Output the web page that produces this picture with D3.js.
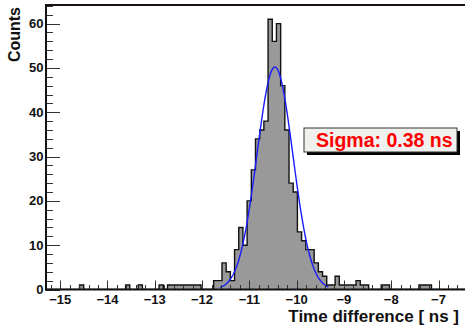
<!DOCTYPE html>
<html>
<head>
<meta charset="utf-8">
<script src="https://cdn.jsdelivr.net/npm/d3@7"></script>
<style>
  html, body { margin: 0; padding: 0; background: #fff; }
  svg { display: block; font-family: "Liberation Sans", Arial, Helvetica, sans-serif; }
</style>
</head>
<body>
<div id="chart"></div>
<script>
/* Time difference histogram with gaussian fit (ROOT style) */

const X_LOW = -15.3;
const X_HIGH = -6.44;
const N_BINS = 100;

// bin contents
const COUNTS = [
  0, 0, 0, 0, 0, 0, 0, 0, 1, 0,      // 0-9
  0, 0, 0, 0, 0, 0, 0, 0, 0, 1,      // 10-19
  0, 0, 1, 0, 0, 0, 0, 1, 0, 1,      // 20-29
  1, 1, 1, 1, 1, 1, 1, 0, 0, 0,      // 30-39
  2, 2, 6, 4, 2, 9, 14, 10, 20, 27,  // 40-49
  34, 36, 38, 61, 56, 60, 46, 36, 24, 22, // 50-59
  13, 11, 9, 9, 6, 4, 3, 1, 1, 3,    // 60-69
  1, 1, 1, 1, 2, 1, 1, 0, 0, 0,      // 70-79
  1, 1, 0, 0, 0, 0, 0, 0, 0, 1,      // 80-89
  1, 1, 0, 0, 0, 0, 0, 0, 0, 0       // 90-99
];

// gaussian fit parameters
const FIT_CONST = 50.2;
const FIT_MEAN = -10.46;
const FIT_SIGMA = 0.38;
const FIT_RANGE = [-11.62, -9.33];

const X_TICKS = [-15, -14, -13, -12, -11, -10, -9, -8, -7];
const Y_TICKS = [0, 10, 20, 30, 40, 50, 60];
const Y_MAX = 64.2;

const W = 465, H = 325;
const frame = { left: 46, right: 466, top: 5, bottom: 289.5 };

const svg = d3.select("#chart").append("svg")
  .attr("width", W).attr("height", H);

const x = d3.scaleLinear().domain([X_LOW, X_HIGH]).range([frame.left, frame.right - 1]);
const y = d3.scaleLinear().domain([0, Y_MAX]).range([frame.bottom, frame.top]);

svg.append("clipPath").attr("id", "clip").append("rect")
  .attr("x", frame.left).attr("y", frame.top)
  .attr("width", frame.right - frame.left).attr("height", frame.bottom - frame.top);

const binW = (X_HIGH - X_LOW) / N_BINS;
const bins = COUNTS.map((c, i) => ({ x0: X_LOW + i * binW, x1: X_LOW + (i + 1) * binW, c }));

/* step path of the histogram */
const pts = [[X_LOW, 0]];
bins.forEach(b => { pts.push([b.x0, b.c]); pts.push([b.x1, b.c]); });
pts.push([X_HIGH, 0]);

const plot = svg.append("g").attr("clip-path", "url(#clip)");

plot.append("path")
  .attr("d", d3.area().x(d => x(d[0])).y0(y(0)).y1(d => y(d[1]))(pts))
  .attr("fill", "#999999");

plot.append("path")
  .attr("d", d3.line().x(d => x(d[0])).y(d => y(d[1]))(pts))
  .attr("fill", "none").attr("stroke", "#111").attr("stroke-width", 1.4);

/* fit curve */
const fitPts = d3.range(0, 201).map(k => {
  const v = FIT_RANGE[0] + (FIT_RANGE[1] - FIT_RANGE[0]) * k / 200;
  return [v, FIT_CONST * Math.exp(-0.5 * ((v - FIT_MEAN) / FIT_SIGMA) ** 2)];
});
plot.append("path")
  .attr("d", d3.line().x(d => x(d[0])).y(d => y(d[1]))(fitPts))
  .attr("fill", "none").attr("stroke", "#1a1aff").attr("stroke-width", 1.4);

/* ticks: y axis (inside frame) */
const yMinor = d3.range(0, Y_MAX, 2);
svg.append("g").selectAll("line").data(yMinor).enter().append("line")
  .attr("x1", frame.left).attr("x2", d => frame.left + (d % 10 === 0 ? 14 : 7))
  .attr("y1", d => Math.round(y(d)) + 0.5).attr("y2", d => Math.round(y(d)) + 0.5)
  .attr("stroke", "#333").attr("stroke-width", 1);

svg.append("g").selectAll("text").data(Y_TICKS).enter().append("text")
  .attr("x", 43.5).attr("y", d => y(d) + 4.5)
  .attr("text-anchor", "end")
  .style("font-size", "13px").style("font-weight", "bold").style("fill", "#111")
  .text(d => d);

/* ticks: x axis (inside frame) */
const xMinor = d3.range(-15.2, X_HIGH, 0.2).map(v => Math.round(v * 10) / 10);
svg.append("g").selectAll("line").data(xMinor).enter().append("line")
  .attr("x1", d => Math.round(x(d)) + 0.5).attr("x2", d => Math.round(x(d)) + 0.5)
  .attr("y1", frame.bottom)
  .attr("y2", d => frame.bottom - (Number.isInteger(d) ? 9 : 4.5))
  .attr("stroke", "#333").attr("stroke-width", 1);

svg.append("g").selectAll("text").data(X_TICKS).enter().append("text")
  .attr("x", d => x(d)).attr("y", 303.5)
  .attr("text-anchor", "middle")
  .style("font-size", "13px").style("font-weight", "bold").style("fill", "#111")
  .text(d => d3.format("")(d));

/* frame */
svg.append("line").attr("x1", frame.left).attr("x2", W).attr("y1", frame.top).attr("y2", frame.top)
  .attr("stroke", "#1a0f0f").attr("stroke-width", 2);
svg.append("line").attr("x1", frame.left).attr("x2", frame.left).attr("y1", frame.top - 1).attr("y2", frame.bottom + 1)
  .attr("stroke", "#111").attr("stroke-width", 2);
svg.append("line").attr("x1", frame.left - 1).attr("x2", W).attr("y1", frame.bottom).attr("y2", frame.bottom)
  .attr("stroke", "#111").attr("stroke-width", 2);

/* axis titles */
svg.append("text")
  .attr("transform", "translate(20,7) rotate(-90)")
  .attr("text-anchor", "end")
  .style("font-size", "16px").style("font-weight", "bold").style("fill", "#111")
  .text("Counts");

svg.append("text")
  .attr("x", 459).attr("y", 322).attr("text-anchor", "end")
  .style("font-size", "17px").style("font-weight", "bold").style("fill", "#111")
  .text("Time difference [ ns ]");

/* sigma box */
const box = { x: 304, y: 128, w: 153, h: 24 };
svg.append("rect").attr("x", box.x + 3).attr("y", box.y + 3).attr("width", box.w).attr("height", box.h)
  .attr("fill", "#000");
svg.append("rect").attr("x", box.x).attr("y", box.y).attr("width", box.w).attr("height", box.h)
  .attr("fill", "#f0f0ee").attr("stroke", "#333").attr("stroke-width", 1);
svg.append("text")
  .attr("x", 316).attr("y", 146.5)
  .style("font-size", "19.5px").style("font-weight", "bold").style("fill", "#ff0000")
  .text("Sigma: " + FIT_SIGMA.toFixed(2) + " ns");
</script>
</body>
</html>
